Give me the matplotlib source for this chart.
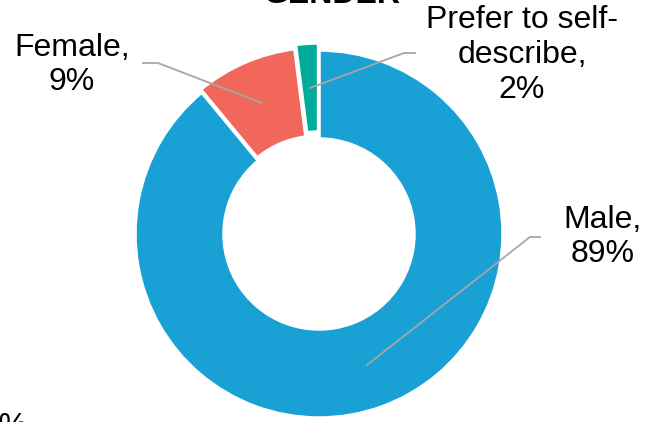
import matplotlib.pyplot as plt

plt.rcParams['font.family'] = ['Liberation Sans', 'DejaVu Sans']

# gender split of respondents
labels = ['Male', 'Female', 'Prefer to self-\ndescribe']
shares = [89, 9, 2]
colors = ['#19a0d5', '#f1685a', '#00ab9c']

W, H = 649, 422
fig = plt.figure(figsize=(W / 100, H / 100), dpi=100)
ax = fig.add_axes([0, 0, 1, 1])

cx, cy, R = 319, H - 234, 184
wedges, _ = ax.pie(shares, colors=colors, startangle=90, counterclock=False,
                   radius=R, center=(cx, cy), explode=[0, 3, 7],
                   wedgeprops=dict(width=89, edgecolor='white', linewidth=2.5))
ax.set_xlim(0, W)
ax.set_ylim(0, H)
ax.set_aspect('equal')
ax.axis('off')

# label positions and leader lines (pixel coords, y from top)
label_xy = [(603, 237), (72, 65), (522, 55)]
leaders = [[(540, 237), (530, 237), (367, 365)],
           [(143, 63), (158, 63), (262, 103)],
           [(415, 53), (404, 53), (310, 88)]]

for lab, pct, (lx, ly), pts in zip(labels, shares, label_xy, leaders):
    ax.text(lx, H - ly, '%s,\n%d%%' % (lab, pct), ha='center', va='center',
            fontsize=23, color='black', linespacing=1.2)
    ax.plot([p[0] for p in pts], [H - p[1] for p in pts], color='#a6a6a6', lw=1.3)

ax.text(332, H - 3, 'GENDER', ha='center', va='baseline', fontsize=23,
        fontweight='bold', color='black')
ax.text(28, H - 412, '9%', ha='right', va='top', fontsize=23, color='black')

fig.savefig('out.png', dpi=100)
